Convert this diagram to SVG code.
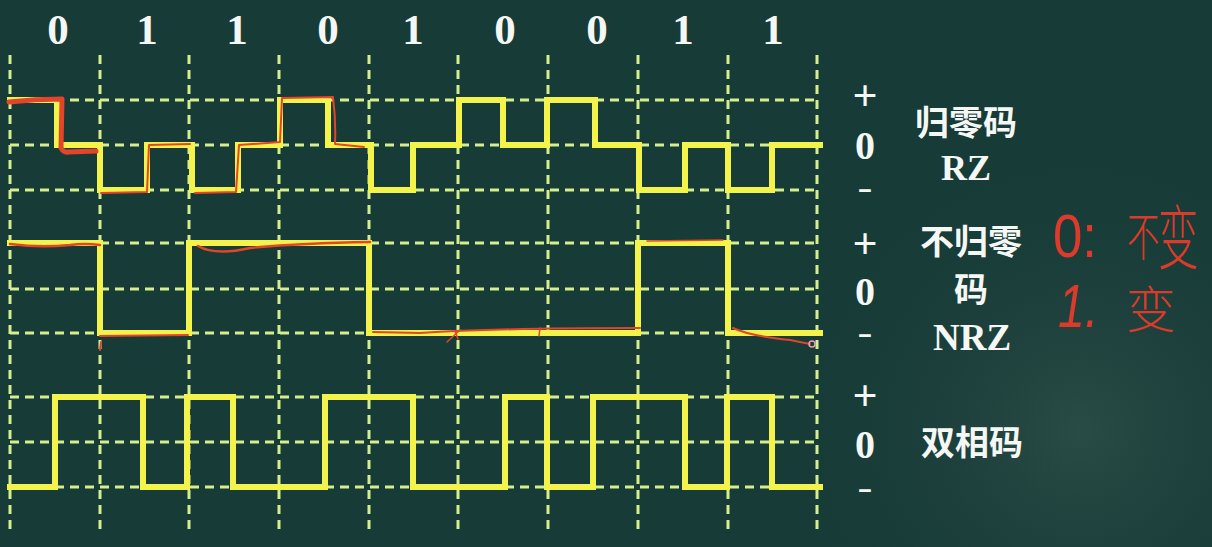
<svg xmlns="http://www.w3.org/2000/svg" width="1212" height="547" viewBox="0 0 1212 547">
  <defs>
    <radialGradient id="bgGlow" cx="1080" cy="430" r="300" gradientUnits="userSpaceOnUse">
      <stop offset="0" stop-color="#2a4c47"/>
      <stop offset="1" stop-color="#173b37" stop-opacity="0"/>
    </radialGradient>
    <style>
      .grid { stroke: #d6ef8e; stroke-width: 3; stroke-dasharray: 9 6; fill: none; }
      .wave { stroke: #f3f34c; stroke-width: 6; fill: none; stroke-linejoin: miter; stroke-linecap: square; }
      .red { stroke: #e2452a; fill: none; stroke-linecap: round; stroke-linejoin: round; }
      .num { font-family: "Liberation Serif", "Times New Roman", serif; font-weight: bold; fill: #f4f7f4; text-anchor: middle; }
      .cjk { font-family: "Noto Sans CJK SC", "Noto Sans", sans-serif; font-weight: bold; fill: #f4f7f4; text-anchor: middle; }
      .hand { font-family: "Noto Sans CJK SC", "Liberation Sans", sans-serif; font-weight: 300; fill: #dc3a2a; }
      .handl { font-family: "Liberation Sans", sans-serif; font-weight: normal; fill: #dc3a2a; }
    </style>
  </defs>

  <rect x="0" y="0" width="1212" height="547" fill="#173b37"/>
  <rect x="0" y="0" width="1212" height="547" fill="url(#bgGlow)"/>

  <!-- grid -->
  <g id="grid">
    <path class="grid" d="M10,55V532 M100,55V532 M189,55V532 M279,55V532 M369,55V532 M458,55V532 M548,55V532 M638,55V532 M728,55V532 M817,55V532"/>
    <path class="grid" d="M10,100H820 M10,145H820 M10,190H820 M10,243H820 M10,289H820 M10,333H820 M10,397H820 M10,442H820 M10,487H820"/>
  </g>

  <!-- bit labels -->
  <g id="bits" class="num" font-size="43">
    <text x="58" y="44">0</text>
    <text x="147" y="44">1</text>
    <text x="237" y="44">1</text>
    <text x="328" y="44">0</text>
    <text x="413" y="44">1</text>
    <text x="505" y="44">0</text>
    <text x="597" y="44">0</text>
    <text x="683" y="44">1</text>
    <text x="773" y="44">1</text>
  </g>

  <!-- waveforms (connectors) -->
  <g id="waveforms">
    <path id="wave-rz" class="wave" d="M10,100 H57 V145 H100 V190 H147 V145 H192 V190 H238 V145 H280 V100 H328 V145 H371 V190 H413 V145 H459 V100 H503 V145 H547 V100 H595 V145 H639 V190 H685 V145 H728 V190 H772 V145 H820"/>
    <path id="wave-nrz" class="wave" d="M10,243 H100 V333 H189 V243 H369 V333 H638 V243 H728 V333 H820"/>
    <path id="wave-biphase" class="wave" d="M10,487 H55 V397 H143 V487 H187 V397 H233 V487 H325 V397 H413 V487 H505 V397 H547 V487 H593 V397 H685 V487 H727 V397 H772 V487 H820"/>
  </g>

  <!-- red hand annotations over the waveforms -->
  <g id="annotations-lines">
    <path class="red" stroke-width="5" stroke="#e8501f" d="M9,102 Q35,99 62,99 L61,148 Q64,153 68,152 L96,151"/>
    <path class="red" stroke-width="2" d="M101,193 L147,192 L149,145 L190,144 M195,193 L236,192 L239,145 L280,142 L282,98 L333,97 Q336,120 335,144 L364,147"/>
    <path class="red" stroke-width="2.5" d="M10,244 Q40,248 70,245 Q85,243 100,245"/>
    <path class="red" stroke-width="2" d="M100,336 L188,335"/>
    <path class="red" stroke-width="2" d="M101,342 L100,350"/>
    <path class="red" stroke-width="2.5" d="M198,246 Q215,256 250,248 Q300,243 370,242"/>
    <path class="red" stroke-width="2" d="M373,332 L420,333 Q500,328 640,328"/>
    <path class="red" stroke-width="1.5" d="M447,342 L460,330 M455,331 L458,339 M540,328 L539,336"/>
    <path class="red" stroke-width="1.5" d="M647,241 L723,240"/>
    <path class="red" stroke-width="2" stroke="#c03a40" d="M733,328 Q750,336 790,340 L810,344"/>
    <circle cx="812" cy="344" r="3" fill="none" stroke="#e8a0b0" stroke-width="1.5"/>
  </g>

  <!-- RZ row labels -->
  <g id="label-rz">
    <text class="num" x="865" y="110" font-size="44">+</text>
    <text class="num" x="865" y="159" font-size="40">0</text>
    <text class="num" transform="translate(865,198) scale(1.4,1)" font-size="32">-</text>
    <text class="cjk" x="966" y="135" font-size="34">归零码</text>
    <text class="num" x="966" y="180" font-size="36">RZ</text>
  </g>

  <!-- NRZ row labels -->
  <g id="label-nrz">
    <text class="num" x="865" y="258" font-size="44">+</text>
    <text class="num" x="865" y="305" font-size="40">0</text>
    <text class="num" transform="translate(865,343) scale(1.4,1)" font-size="32">-</text>
    <text class="cjk" x="971" y="254" font-size="34">不归零</text>
    <text class="cjk" x="971" y="302" font-size="34">码</text>
    <text class="num" x="972" y="350" font-size="37">NRZ</text>
  </g>

  <!-- biphase row labels -->
  <g id="label-biphase">
    <text class="num" x="865" y="410" font-size="44">+</text>
    <text class="num" x="865" y="458" font-size="40">0</text>
    <text class="num" transform="translate(865,498) scale(1.4,1)" font-size="32">-</text>
    <text class="cjk" x="972" y="455" font-size="34">双相码</text>
  </g>

  <!-- handwritten red notes -->
  <g id="annotations-text">
    <text class="handl" transform="translate(1053,257) scale(1.2,1.4)" font-size="44">0:</text>
    <text class="hand" transform="translate(1127,256) scale(0.65,1.05)" font-size="50">不</text>
    <text class="hand" transform="translate(1158,264) scale(0.75,1.3)" font-size="54">变</text>
    <text class="handl" transform="translate(1058,327) scale(1.1,1.4)" font-size="44" font-style="italic">1.</text>
    <text class="hand" x="1126" y="328" font-size="50">变</text>
  </g>
</svg>
